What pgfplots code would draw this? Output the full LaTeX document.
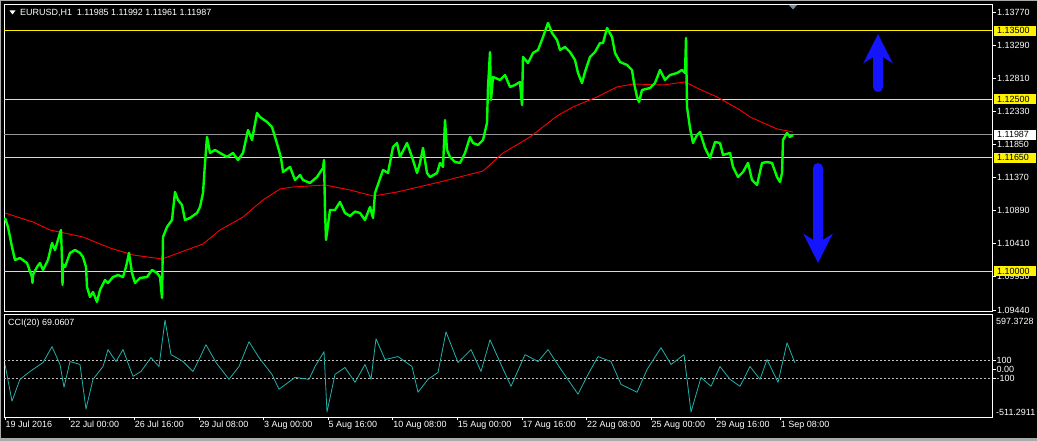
\documentclass[border=0pt]{standalone}
\usepackage{pgfplots}
\pgfplotsset{compat=1.18}
\usepackage{fontspec}
\setmainfont{Liberation Sans}
\usetikzlibrary{arrows.meta}
\definecolor{mtgreen}{RGB}{0,255,0}
\definecolor{ccicol}{RGB}{32,178,170}
\definecolor{mtblue}{RGB}{20,20,255}
\definecolor{winborder}{RGB}{170,170,170}
\definecolor{levelgray}{RGB}{150,150,150}
\definecolor{shiftmark}{RGB}{120,140,160}
\begin{document}
\fontsize{9}{10.5}\selectfont
\begin{tikzpicture}[x=1bp,y=1bp]
\fill[black] (0,0) rectangle (1037,441);
\fill[winborder] (0,439.5) rectangle (1037,441);
\fill[winborder] (0,0) rectangle (1037,3);
\fill[winborder] (0,0) rectangle (1.2,441);

% ---------------- price panel ----------------
\begin{axis}[
  at={(4bp,130bp)}, anchor=south west,
  scale only axis, width=988bp, height=306.5bp,
  xmin=4, xmax=992, ymin=1.094252, ymax=1.138786,
  axis line style={white, line width=0.8bp},
  xtick=\empty,
  ytick={1.0944,1.0993,1.1041,1.1089,1.1137,1.1185,1.1233,1.1281,1.1329,1.1377},
  yticklabels={1.09440,1.09930,1.10410,1.10890,1.11370,1.11850,1.12330,1.12810,1.13290,1.13770},
  ytick pos=right, yticklabel pos=right,
  tick align=outside, major tick length=4bp,
  tick style={white, line width=0.6bp},
  yticklabel style={white, anchor=west, inner sep=1bp},
]
\addplot[yellow, line width=1bp] coordinates {(4,1.135) (992,1.135)};
\addplot[yellow, line width=1bp] coordinates {(4,1.125) (992,1.125)};
\addplot[yellow, line width=1bp] coordinates {(4,1.1165) (992,1.1165)};
\addplot[yellow, line width=1bp] coordinates {(4,1.1) (992,1.1)};
\addplot[levelgray, line width=1bp] coordinates {(4,1.11987) (992,1.11987)};
% moving average
\addplot[red, line width=0.9bp] coordinates {
(5,1.10849) (33,1.10718) (50,1.10602) (83,1.10500) (110,1.10341) (133,1.10239)
(162,1.10181) (173,1.10239) (203,1.10399) (220,1.10602) (243,1.10791) (263,1.11038)
(280,1.11198) (293,1.11227) (325,1.11256) (350,1.11183) (373,1.11096) (397,1.11154)
(440,1.11300) (483,1.11459) (503,1.11721) (530,1.11953) (557,1.12259) (573,1.12390)
(597,1.12535) (617,1.12680) (633,1.12724) (663,1.12709) (685,1.12753) (697,1.12665)
(717,1.12535) (740,1.12346) (750,1.12244) (777,1.12070) (793,1.12026)};
% price
\addplot[mtgreen, line width=2.4bp, line join=round] coordinates {
(5,1.10777) (8,1.10646) (12,1.10355) (15,1.10166) (20,1.10195) (27,1.10123)
(32,1.09919) (32.5,1.09832) (33,1.09950) (37,1.10065) (40,1.10123) (43,1.10021) (48,1.10166)
(52,1.10413) (55,1.10312) (60,1.10558) (61,1.10602) (62,1.10166) (62.5,1.09803) (63,1.10100)
(65,1.10065) (70,1.10268) (75,1.10312) (80,1.10268) (83,1.10210) (86,1.10065)
(87,1.09774) (90,1.09629) (93,1.09701) (97,1.09556) (100,1.09730) (105,1.09876)
(108,1.09832) (113,1.09919) (118,1.09948) (123,1.09919) (126,1.10065) (129,1.10268)
(132,1.09977) (135,1.09832) (140,1.09905) (147,1.09919) (152,1.10021) (157,1.09977)
(160,1.09919) (162,1.09614) (163,1.10500) (167,1.10646) (172,1.10747) (175,1.11154)
(178,1.11038) (182,1.10965) (185,1.10747) (190,1.10777) (197,1.10849) (200,1.10936)
(203,1.11140) (205,1.11576) (207,1.11953) (210,1.11721) (215,1.11765) (220,1.11721)
(227,1.11663) (233,1.11721) (238,1.11619) (243,1.11721) (248,1.12055) (252,1.11910)
(257,1.12302) (260,1.12244) (267,1.12171) (272,1.12099) (275,1.11953) (278,1.11808)
(281,1.11648) (283,1.11445) (290,1.11518) (295,1.11329) (300,1.11401) (303,1.11329)
(310,1.11285) (317,1.11372) (323,1.11503) (324,1.11619) (325,1.10893) (326,1.10457)
(330,1.10893) (335,1.10893) (340,1.11009) (345,1.10849) (350,1.10806) (355,1.10870) (360,1.10849)
(365,1.10747) (370,1.10936) (373,1.10777) (375,1.11140) (383,1.11474) (388,1.11430)
(393,1.11808) (397,1.11866) (400,1.11663) (407,1.11866) (412,1.11663) (417,1.11430)
(420,1.11576) (423,1.11794) (427,1.11430) (430,1.11372) (437,1.11430) (440,1.11576)
(443,1.11518) (445,1.12200) (447,1.11765) (450,1.11663) (455,1.11590) (460,1.11576)
(465,1.11721) (470,1.11953) (473,1.11866) (478,1.11837) (483,1.11910) (487,1.12157)
(488,1.12680) (490,1.13188) (491,1.12491) (493,1.12825) (500,1.12782) (505,1.12854)
(510,1.12680) (515,1.12709) (520,1.12753) (522,1.12418) (523,1.13116) (528,1.13029)
(533,1.13174) (538,1.13218) (543,1.13406) (548,1.13610) (552,1.13465) (557,1.13363)
(560,1.13218) (565,1.13261) (570,1.13188) (575,1.13072) (578,1.12883) (582,1.12738)
(585,1.12898) (590,1.13116) (595,1.13188) (600,1.13319) (603,1.13319) (607,1.13537)
(612,1.13406) (615,1.13174) (620,1.13043) (627,1.13000) (632,1.12927) (634,1.12738)
(637,1.12535) (639,1.12462) (642,1.12636) (650,1.12665) (655,1.12738) (660,1.12927)
(665,1.12782) (670,1.12854) (677,1.12883) (682,1.12927) (685,1.12883) (686,1.13392)
(687,1.12389) (690,1.12084) (693,1.11866) (697,1.11982) (700,1.12026) (705,1.11794)
(710,1.11648) (715,1.11881) (720,1.11866) (723,1.11692) (730,1.11721) (733,1.11518)
(738,1.11372) (743,1.11445) (748,1.11576) (752,1.11329) (757,1.11256) (762,1.11576)
(767,1.11590) (772,1.11576) (777,1.11372) (780,1.11300) (782,1.11430) (783,1.11910)
(787,1.12012) (790,1.11953) (793,1.11982)};
% arrows (annotations)
\draw[mtblue, line width=10bp, line cap=round, -{Stealth[length=29bp, width=29bp, inset=9bp]}]
  (axis cs:878,1.12680) -- (axis cs:878,1.13450);
\draw[mtblue, line width=10bp, line cap=round, -{Stealth[length=29bp, width=29bp, inset=9bp]}]
  (axis cs:818,1.11503) -- (axis cs:818,1.10123);
\coordinate (la) at (axis cs:992,1.135);
\coordinate (lb) at (axis cs:992,1.125);
\coordinate (lc) at (axis cs:992,1.1165);
\coordinate (ld) at (axis cs:992,1.1);
\coordinate (le) at (axis cs:992,1.11987);
\end{axis}

\foreach \c/\t in {la/1.13500, lb/1.12500, lc/1.11650, ld/1.10000}
  \node[fill=yellow, text=black, anchor=west, inner xsep=3bp, inner ysep=0pt,
        minimum height=10bp, text width=36bp, align=left] at ([xshift=2bp]\c) {\t};
\node[fill=white, text=black, anchor=west, inner xsep=3bp, inner ysep=0pt,
      minimum height=10bp, text width=36bp, align=left] at ([xshift=2bp]le) {1.11987};

% title and markers
\fill[white] (9.5,430.5) -- (15.5,430.5) -- (12.5,426.5) -- cycle;
\node[white, anchor=west, inner sep=0pt] at (20,428.5) {EURUSD,H1\ \ 1.11985 1.11992 1.11961 1.11987};
\fill[shiftmark] (789,436) -- (797,436) -- (793,431.5) -- cycle;

% ---------------- CCI panel ----------------
\begin{axis}[
  at={(4bp,24bp)}, anchor=south west,
  scale only axis, width=988bp, height=103bp,
  xmin=4, xmax=992, ymin=-511.2911, ymax=597.3728,
  axis line style={white, line width=0.8bp},
  xtick={5,69.6,134.2,198.8,263.4,328,392.6,457.2,521.8,586.4,651,715.6,780.2},
  xticklabels={19 Jul 2016,22 Jul 00:00,26 Jul 16:00,29 Jul 08:00,3 Aug 00:00,5 Aug 16:00,10 Aug 08:00,15 Aug 00:00,17 Aug 16:00,22 Aug 08:00,25 Aug 00:00,29 Aug 16:00,1 Sep 08:00},
  xtick pos=bottom,
  xticklabel style={white, anchor=north west, inner sep=0.5bp},
  ytick={-100,0,100},
  yticklabels={-100,0.00,100},
  ytick pos=right, yticklabel pos=right,
  tick align=outside, major tick length=3.5bp,
  tick style={white, line width=0.6bp},
  yticklabel style={white, anchor=west, inner sep=1bp},
]
\addplot[white!75!black, line width=0.8bp, dash pattern=on 2bp off 2bp] coordinates {(4,100) (992,100)};
\addplot[white!75!black, line width=0.8bp, dash pattern=on 2bp off 2bp] coordinates {(4,-100) (992,-100)};
\addplot[ccicol, line width=0.8bp, line join=round] coordinates {
(5,54) (12,-341) (20,-106) (30,-21) (43,75) (52,246) (60,54) (64,-191) (70,86)
(80,54) (86,-426) (93,-106) (103,32) (108,214) (116,86) (123,214) (133,-74)
(141,-21) (151,128) (159,32) (165,533) (171,160) (183,86) (193,-21) (199,107)
(206,267) (216,75) (229,-106) (239,32) (249,299) (259,128) (272,-53) (279,-213)
(295,-85) (309,-106) (315,32) (324,192) (327,-458) (335,-53) (345,22) (355,-138)
(365,54) (371,-106) (376,331) (385,107) (398,139) (412,32) (418,-245) (428,-106)
(438,-32) (446,405) (458,75) (471,214) (481,-21) (490,320) (501,54) (511,-181)
(525,160) (538,86) (548,214) (561,0) (578,-266) (588,-53) (598,139) (611,86)
(621,-160) (637,-245) (647,0) (661,235) (671,54) (684,160) (691,-458) (701,-85)
(711,-181) (720,32) (730,-106) (740,-181) (750,32) (760,-106) (767,107) (778,-138)
(787,288) (795,69)};
\end{axis}
\node[white, anchor=west, inner sep=0pt] at (8,118) {CCI(20) 69.0607};
\node[white, anchor=west, inner sep=0pt] at (996,120) {597.3728};
\node[white, anchor=west, inner sep=0pt] at (996,28.5) {-511.2911};

\pgfresetboundingbox
\useasboundingbox (0,0) rectangle (1037,441);
\end{tikzpicture}
\end{document}
